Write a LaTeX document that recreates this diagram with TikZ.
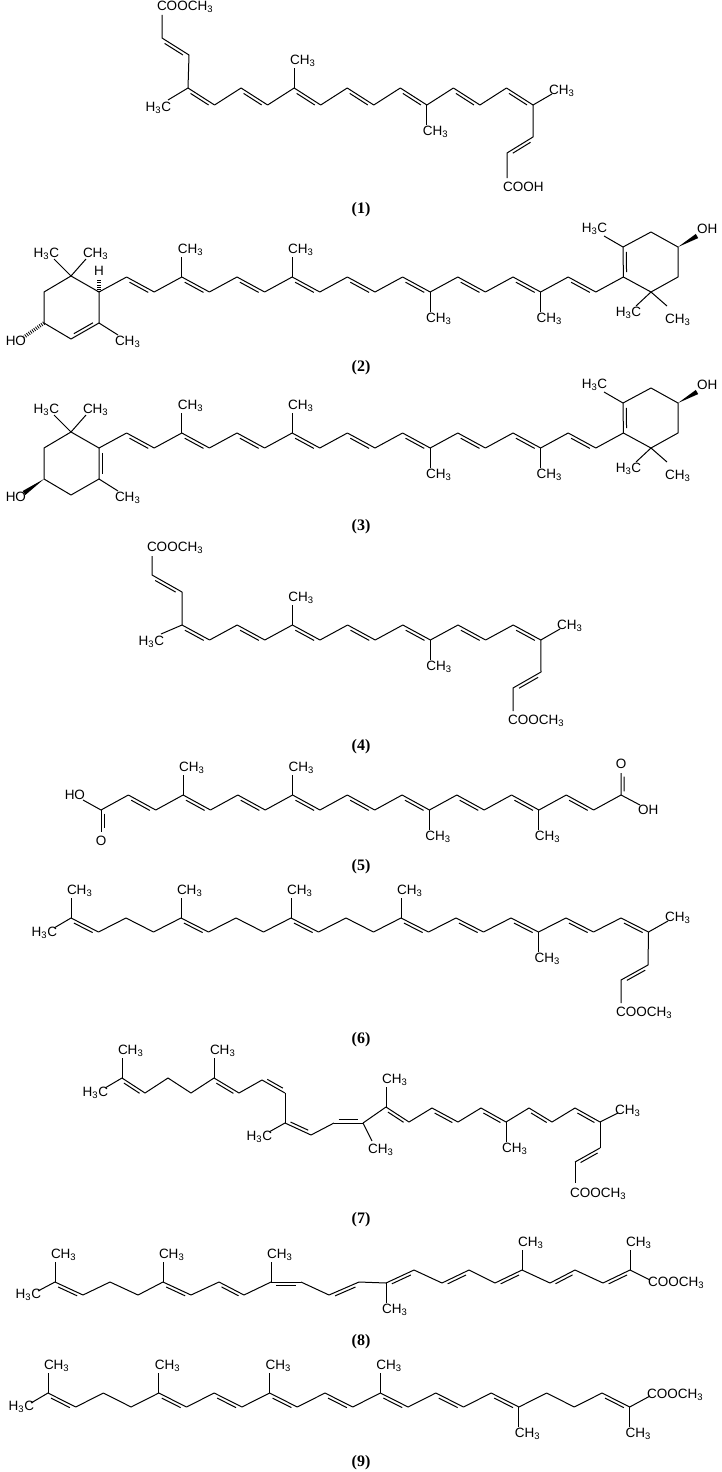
\documentclass[tikz,border=0pt]{standalone}
\usepackage{fontspec}
\setmainfont{Liberation Serif}
\setsansfont{Liberation Sans}
\usetikzlibrary{calc}
\tikzset{
  lbl/.style={font=\sffamily\fontsize{13.5}{13.5}\selectfont,inner sep=0.5pt},
  cmpd/.style={font=\bfseries\fontsize{16}{16}\selectfont,inner sep=0pt},
  hash/.style={line width=3.5pt,dash pattern=on 0.8pt off 1.4pt}
}
\newcommand\chiii{CH\textsubscript{3}}
\newcommand\hiiic{H\textsubscript{3}C}
\newcommand\cooch{COOCH\textsubscript{3}}
\newcommand\dbline[3][-90]{\draw ($(#2)!.16!(#3)!3.2pt!#1:(#3)$) -- ($(#2)!.84!(#3)!3.2pt!#1:(#3)$);}
\newcommand\mkchain[6]{%
  \foreach \k in {0,...,#4}{\coordinate (#1\k) at ({#2+#3*\k},{isodd(\k)?#6:#5});}
  \foreach \k in {1,...,#4}{\pgfmathtruncatemacro\pk{\k-1}\draw (#1\pk)--(#1\k);}}
\newcommand\mkdb[2]{\foreach \k in {#2}{\pgfmathtruncatemacro\qk{\k+1}\dbline{#1\k}{#1\qk}}}
\newcommand\meup[2]{\draw (#1)--++(0,-20) node[lbl,anchor=south west,xshift=-5pt](#2){\chiii};}
\newcommand\medn[2]{\draw (#1)--++(0,20) node[lbl,anchor=north west,xshift=-5pt](#2){\chiii};}
\newcommand\wdg[2]{\fill (#1) -- ($(#2)!2.4pt!90:(#1)$) -- ($(#2)!2.4pt!-90:(#1)$) -- cycle;}
\newcommand\carot[1]{%
  \mkchain{#1}{99}{27.6}{19}{292}{277}
  \mkdb{#1}{1,3,...,17}
  \meup{#13}{#1ma}\meup{#17}{#1mb}\medn{#112}{#1mc}\medn{#116}{#1md}
  \coordinate (#1ul) at (623,247); \coordinate (#1t) at (651,232);
  \coordinate (#1ur) at (678,247); \coordinate (#1lr) at (678,277);
  \coordinate (#1b) at (651,292);
  \draw (#119)--(#1ul)--(#1t)--(#1ur)--(#1lr)--(#1b)--(#119);
  \dbline{#119}{#1ul}
  \coordinate (#1h) at (604,236); \draw (#1ul)--(#1h);
  \node[lbl,anchor=east] (#1hl) at (608,229) {\hiiic};
  \coordinate (#1o) at (697,236); \wdg{#1ur}{#1o}
  \node[lbl,anchor=west] (#1ol) at (696,229) {OH};
  \coordinate (#1g1) at (636,306); \coordinate (#1g2) at (667,306);
  \draw (#1g1)--(#1b)--(#1g2);
  \node[lbl,anchor=east] (#1gl1) at (642,313) {\hiiic};
  \node[lbl,anchor=west] (#1gl2) at (664,320) {\chiii};
  \coordinate (#1Lt) at (71,276); \coordinate (#1Llr) at (99,323);
  \coordinate (#1Lb) at (71,339); \coordinate (#1Lll) at (44,323);
  \coordinate (#1Lul) at (44,292);
  \draw (#1Lt)--(#10)--(#1Llr)--(#1Lb)--(#1Lll)--(#1Lul)--(#1Lt);
  \coordinate (#1Lg1) at (54,259); \coordinate (#1Lg2) at (86,259);
  \draw (#1Lg1)--(#1Lt)--(#1Lg2);
  \node[lbl,anchor=east] (#1Lgl1) at (60,254) {\hiiic};
  \node[lbl,anchor=west] (#1Lgl2) at (82,254) {\chiii};
  \coordinate (#1Lm) at (118,335); \draw (#1Llr)--(#1Lm);
  \node[lbl,anchor=west] (#1Lml) at (114,342) {\chiii};
  \coordinate (#1Lo) at (24,337);
  \node[lbl,anchor=east] (#1Lol) at (27,341) {HO};
}
\begin{document}
\begin{tikzpicture}[x=1pt,y=-1pt,line width=1pt,line join=round]
\useasboundingbox[fill=white] (0,0) rectangle (721,1472);
% ---------- (1)
\node[lbl,anchor=west] (l1a) at (156,7) {\cooch};
\coordinate (a1) at (162,15); \coordinate (a2) at (162,38); \coordinate (a3) at (189,55);
\mkchain{ca}{188}{26.54}{13}{88}{105}
\draw (a1)--(a2)--(a3)--(ca0); \dbline{a2}{a3}
\mkdb{ca}{0,2,...,12}
\coordinate (a4) at (168,100); \draw (ca0)--(a4);
\node[lbl,anchor=east] (l1b) at (172,108) {\hiiic};
\meup{ca4}{l1c} \medn{ca9}{l1d}
\coordinate (a5) at (552,94); \draw (ca13)--(a5);
\node[lbl,anchor=west] (l1e) at (548,91) {\chiii};
\coordinate (a6) at (533,137); \coordinate (a7) at (507,153); \coordinate (a8) at (507,178);
\draw (ca13)--(a6)--(a7)--(a8); \dbline[90]{a6}{a7}
\node[lbl,anchor=west] (l1f) at (502,187) {COOH};
\node[cmpd] (c1) at (361,210) {(1)};
% ---------- (2)
\carot{cb}
\draw[hash] (cb0)--++(0,-13);
\node[lbl] (l2h) at (99,271) {H};
\dbline{cbLlr}{cbLb}
\draw[hash] (cbLll)--(cbLo);
\node[cmpd] (c2) at (361,368) {(2)};
% ---------- (3)
\begin{scope}[yshift=-156pt]
\carot{cc}
\dbline[90]{cc0}{ccLlr}
\wdg{ccLll}{ccLo}
\end{scope}
\node[cmpd] (c3) at (361,527) {(3)};
% ---------- (4)
\node[lbl,anchor=west] (l4a) at (146,548) {\cooch};
\coordinate (d1) at (152,556); \coordinate (d2) at (152,575); \coordinate (d3) at (182,592);
\mkchain{cd}{182}{27.6}{13}{625}{640}
\draw (d1)--(d2)--(d3)--(cd0); \dbline{d2}{d3}
\mkdb{cd}{0,2,...,12}
\coordinate (d4) at (161,634); \draw (cd0)--(d4);
\node[lbl,anchor=east] (l4b) at (165,642) {\hiiic};
\meup{cd4}{l4c} \medn{cd9}{l4d}
\coordinate (d5) at (560,629); \draw (cd13)--(d5);
\node[lbl,anchor=west] (l4e) at (556,626) {\chiii};
\coordinate (d6) at (541,672); \coordinate (d7) at (513,688); \coordinate (d8) at (513,711);
\draw (cd13)--(d6)--(d7)--(d8); \dbline[90]{d6}{d7}
\node[lbl,anchor=west] (l4f) at (507,721) {\cooch};
\node[cmpd] (c4) at (361,747) {(4)};
% ---------- (5)
\mkchain{ce}{101}{27.37}{19}{810}{795}
\mkdb{ce}{1,3,...,17}
\meup{ce3}{l5a}\meup{ce7}{l5b}\medn{ce12}{l5c}\medn{ce16}{l5d}
\coordinate (e1) at (83,800); \draw (ce0)--(e1);
\node[lbl,anchor=east] (l5e) at (86,795) {HO};
\coordinate (e2) at (101,832); \draw (ce0)--(e2); \dbline[90]{ce0}{e2}
\node[lbl] (l5f) at (101,841) {O};
\coordinate (e3) at (621,773); \draw (ce19)--(e3); \dbline{ce19}{e3}
\node[lbl] (l5g) at (621,764) {O};
\coordinate (e4) at (640,805); \draw (ce19)--(e4);
\node[lbl,anchor=west] (l5h) at (637,810) {OH};
\node[cmpd] (c5) at (361,867) {(5)};
% ---------- (6)
\mkchain{cf}{71}{27.5}{21}{918}{932}
\mkdb{cf}{0,4,8,12,14,16,18,20}
\meup{cf0}{l6a}\meup{cf4}{l6b}\meup{cf8}{l6c}\meup{cf12}{l6d}\medn{cf17}{l6e}
\coordinate (f1) at (54,928); \draw (cf0)--(f1);
\node[lbl,anchor=east] (l6f) at (58,933) {\hiiic};
\coordinate (f2) at (668,921); \draw (cf21)--(f2);
\node[lbl,anchor=west] (l6g) at (664,918) {\chiii};
\coordinate (f3) at (648,965); \coordinate (f4) at (621,980); \coordinate (f5) at (621,1003);
\draw (cf21)--(f3)--(f4)--(f5); \dbline[90]{f3}{f4}
\node[lbl,anchor=west] (l6h) at (615,1013) {\cooch};
\node[cmpd] (c6) at (361,1040) {(6)};
% ---------- (7)
\foreach \n/\x/\y in {0/122/1078,1/145/1093,2/168/1078,3/191/1093,4/214/1078,5/239/1093,
  6/262/1080,7/285/1093,8/285/1123,9/311/1135,10/334/1123,11/363/1123,12/386/1107,
  13/409/1122,14/432/1108,15/458/1122,16/481/1108,17/506/1122,18/529/1108,19/552/1122,
  20/575/1108,21/600/1122,22/600/1148,23/575/1162,24/575/1183}
  {\coordinate (q\n) at (\x,\y);}
\foreach \k in {1,...,24}{\pgfmathtruncatemacro\pk{\k-1}\draw (q\pk)--(q\k);}
\mkdb{q}{0,4,12,14,16,18,20}
\dbline[90]{q6}{q7} \dbline[90]{q8}{q9} \dbline[90]{q10}{q11} \dbline[90]{q22}{q23}
\coordinate (g1) at (105,1088); \draw (q0)--(g1);
\node[lbl,anchor=east] (l7a) at (109,1093) {\hiiic};
\meup{q0}{l7b}\meup{q4}{l7c}\meup{q12}{l7d}\medn{q17}{l7e}
\coordinate (g2) at (269,1132); \draw (q8)--(g2);
\node[lbl,anchor=east] (l7f) at (273,1137) {\hiiic};
\coordinate (g3) at (372,1141); \draw (q11)--(g3);
\node[lbl,anchor=west] (l7g) at (367,1150) {\chiii};
\coordinate (g4) at (618,1113); \draw (q21)--(g4);
\node[lbl,anchor=west] (l7h) at (614,1111) {\chiii};
\node[lbl,anchor=west] (l7i) at (569,1194) {\cooch};
\node[cmpd] (c7) at (361,1220) {(7)};
% ---------- (8)
\foreach \n/\x/\y in {0/55/1282,1/83/1295,2/110/1282,3/138/1295,4/163/1282,5/191/1295,
  6/219/1282,7/244/1295,8/271/1282,9/301/1282,10/329/1295,11/359/1282,12/386/1283,
  13/414/1270,14/442/1283,15/469/1270,16/495/1283,17/522/1270,18/550/1283,19/575/1270,
  20/603/1283,21/630/1270}
  {\coordinate (u\n) at (\x,\y);}
\foreach \k in {1,...,21}{\pgfmathtruncatemacro\pk{\k-1}\draw (u\pk)--(u\k);}
\mkdb{u}{0,4,6,8,10,12,14,16,18,20}
\coordinate (h1) at (38,1291); \draw (u0)--(h1);
\node[lbl,anchor=east] (l8a) at (42,1295) {\hiiic};
\meup{u0}{l8b}\meup{u4}{l8c}\meup{u8}{l8d}\medn{u12}{l8e}\meup{u17}{l8f}\meup{u21}{l8g}
\coordinate (h2) at (650,1280); \draw (u21)--(h2);
\node[lbl,anchor=west] (l8h) at (647,1283) {\cooch};
\node[cmpd] (c8) at (361,1342) {(8)};
% ---------- (9)
\mkchain{ci}{48}{27.7}{21}{1393}{1407}
\mkdb{ci}{0,4,6,8,10,12,14,16,20}
\meup{ci0}{l9a}\meup{ci4}{l9b}\meup{ci8}{l9c}\meup{ci12}{l9d}\medn{ci17}{l9e}\medn{ci21}{l9f}
\coordinate (k1) at (31,1403); \draw (ci0)--(k1);
\node[lbl,anchor=east] (l9g) at (35,1407) {\hiiic};
\coordinate (k2) at (650,1396); \draw (ci21)--(k2);
\node[lbl,anchor=west] (l9h) at (646,1395) {\cooch};
\node[cmpd] (c9) at (361,1463) {(9)};
\end{tikzpicture}
\end{document}
